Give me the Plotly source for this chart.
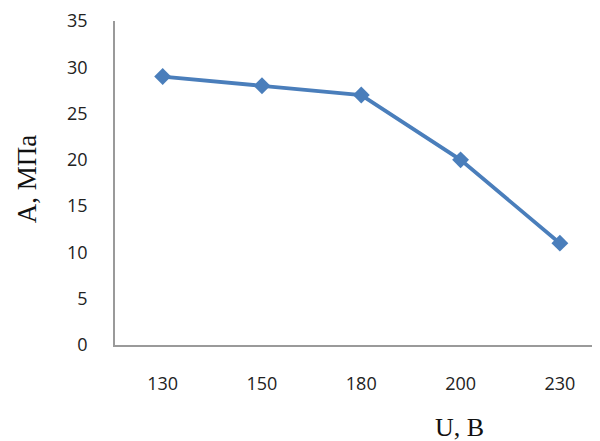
import plotly.graph_objects as go

categories = ["130", "150", "180", "200", "230"]
values = [29, 28, 27, 20, 11]
y_ticks = [0, 5, 10, 15, 20, 25, 30, 35]

fig = go.Figure()
fig.add_trace(go.Scatter(
    x=categories, y=values, mode="lines+markers",
    line=dict(color="#4A7EBB", width=3.8),
    marker=dict(symbol="diamond", size=13, color="#4A7EBB"),
    showlegend=False,
))

tick_font = dict(family="Open Sans, Liberation Sans, sans-serif", size=18, color="#222222")
fig.update_layout(
    width=592, height=433,
    margin=dict(l=107, r=0, t=11, b=96),
    paper_bgcolor="white", plot_bgcolor="white",
    xaxis=dict(type="category", range=[-0.48, 4.404], showgrid=False,
               showline=True, linecolor="#9a9a9a", linewidth=1.5,
               ticks="", tickfont=tick_font, ticklabelstandoff=22,
               ticklabeloverflow="allow", zeroline=False),
    yaxis=dict(range=[0, 35], tickvals=y_ticks, showgrid=False,
               showline=True, linecolor="#9a9a9a", linewidth=1.5,
               ticks="", tickfont=tick_font, ticklabelstandoff=22,
               ticklabeloverflow="allow", zeroline=False),
    annotations=[
        dict(text="A, МПа", xref="paper", yref="paper", x=-0.1814, y=0.512,
             xanchor="center", yanchor="middle", textangle=-90, showarrow=False,
             font=dict(family="Liberation Serif, Times New Roman, serif", size=27, color="#111111")),
        dict(text="U, B", xref="paper", yref="paper", x=0.711, y=-0.2546,
             xanchor="center", yanchor="middle", showarrow=False,
             font=dict(family="Liberation Serif, Times New Roman, serif", size=26, color="#111111")),
    ],
)
fig.write_html("out.html")
